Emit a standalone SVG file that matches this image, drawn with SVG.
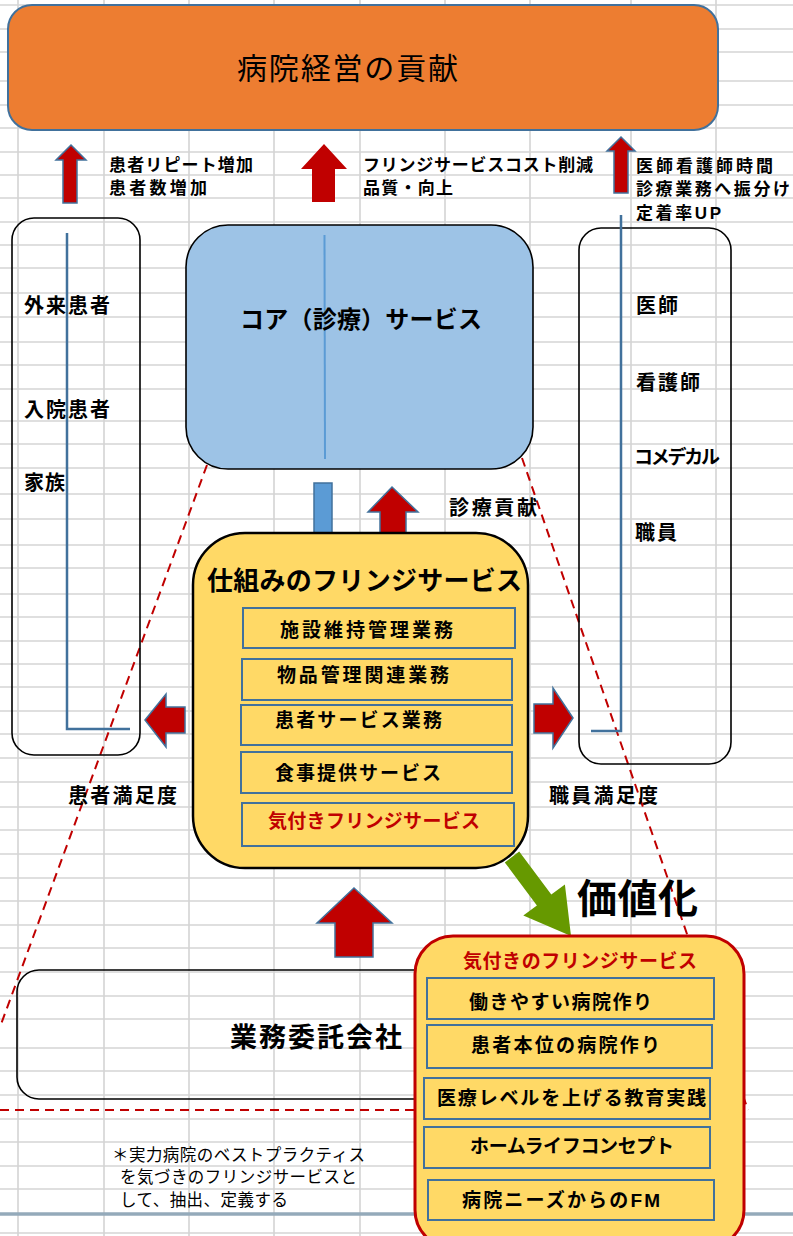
<svg xmlns="http://www.w3.org/2000/svg" width="793" height="1236" viewBox="0 0 793 1236">
<style>
.grid line{stroke:#d4d4d4;stroke-width:1.6}
.t{font-family:"Liberation Sans","Noto Sans CJK JP",sans-serif;font-weight:bold;fill:#000}
.r{font-family:"Liberation Sans","Noto Sans CJK JP",sans-serif;font-weight:normal;fill:#000}
.red{fill:#C00000}
.arr{fill:#C00000;stroke:#41719C;stroke-width:1.5;stroke-linejoin:miter}
.frame{fill:none;stroke:#000;stroke-width:1.6}
.inner{fill:#FFD966;stroke:#41719C;stroke-width:2}
.dash{fill:none;stroke:#C00000;stroke-width:2;stroke-dasharray:9 6}
.lline{fill:none;stroke:#41719C;stroke-width:2.5}
</style>
<rect x="0" y="0" width="793" height="1236" fill="#fff"/>
<g class="grid">
<line x1="0" y1="5" x2="793" y2="5"/><line x1="0" y1="29" x2="793" y2="29"/><line x1="0" y1="52" x2="793" y2="52"/><line x1="0" y1="81" x2="793" y2="81"/><line x1="0" y1="105" x2="793" y2="105"/><line x1="0" y1="128" x2="793" y2="128"/><line x1="0" y1="152" x2="793" y2="152"/><line x1="0" y1="175" x2="793" y2="175"/><line x1="0" y1="198" x2="793" y2="198"/><line x1="0" y1="222" x2="793" y2="222"/><line x1="0" y1="245" x2="793" y2="245"/><line x1="0" y1="268" x2="793" y2="268"/><line x1="0" y1="293" x2="793" y2="293"/><line x1="0" y1="317" x2="793" y2="317"/><line x1="0" y1="342" x2="793" y2="342"/><line x1="0" y1="365" x2="793" y2="365"/><line x1="0" y1="389" x2="793" y2="389"/><line x1="0" y1="421" x2="793" y2="421"/><line x1="0" y1="444" x2="793" y2="444"/><line x1="0" y1="468" x2="793" y2="468"/><line x1="0" y1="494" x2="793" y2="494"/><line x1="0" y1="519" x2="793" y2="519"/><line x1="0" y1="545" x2="793" y2="545"/><line x1="0" y1="568" x2="793" y2="568"/><line x1="0" y1="594" x2="793" y2="594"/><line x1="0" y1="617" x2="793" y2="617"/><line x1="0" y1="641" x2="793" y2="641"/><line x1="0" y1="664" x2="793" y2="664"/><line x1="0" y1="687" x2="793" y2="687"/><line x1="0" y1="711" x2="793" y2="711"/><line x1="0" y1="734" x2="793" y2="734"/><line x1="0" y1="758" x2="793" y2="758"/><line x1="0" y1="782" x2="793" y2="782"/><line x1="0" y1="807" x2="793" y2="807"/><line x1="0" y1="830" x2="793" y2="830"/><line x1="0" y1="854" x2="793" y2="854"/><line x1="0" y1="878" x2="793" y2="878"/><line x1="0" y1="901" x2="793" y2="901"/><line x1="0" y1="925" x2="793" y2="925"/><line x1="0" y1="948" x2="793" y2="948"/><line x1="0" y1="972" x2="793" y2="972"/><line x1="0" y1="996" x2="793" y2="996"/><line x1="0" y1="1019" x2="793" y2="1019"/><line x1="0" y1="1048" x2="793" y2="1048"/><line x1="0" y1="1071" x2="793" y2="1071"/><line x1="0" y1="1095" x2="793" y2="1095"/><line x1="0" y1="1119" x2="793" y2="1119"/><line x1="0" y1="1142" x2="793" y2="1142"/><line x1="0" y1="1166" x2="793" y2="1166"/><line x1="0" y1="1189" x2="793" y2="1189"/><line x1="0" y1="1233" x2="793" y2="1233"/>
<line x1="18" y1="0" x2="18" y2="1236"/><line x1="104" y1="0" x2="104" y2="1236"/><line x1="189" y1="0" x2="189" y2="1236"/><line x1="274" y1="0" x2="274" y2="1236"/><line x1="360" y1="0" x2="360" y2="1236"/><line x1="445" y1="0" x2="445" y2="1236"/><line x1="530" y1="0" x2="530" y2="1236"/><line x1="631" y1="0" x2="631" y2="1236"/><line x1="716" y1="0" x2="716" y2="1236"/>
</g>
<line x1="0" y1="1214" x2="793" y2="1214" stroke="#94AABA" stroke-width="3.5"/>

<g id="connectors">
<path class="dash" d="M207,465 L0,1027"/>
<path class="dash" d="M522,458 L748,1110"/>
<path class="dash" d="M0,1110 L748,1110"/>
<polygon class="arr" points="71,145 86,160 77,160 77,203 63,203 63,160 56,160"/>
<polygon fill="#C00000" points="324,144 347,169 335,169 335,202 312,202 312,169 301,169"/>
<polygon class="arr" points="621,137 635,151 628,151 628,193 614,193 614,151 607,151"/>
<rect x="314" y="483" width="18" height="69" fill="#5B9BD5" stroke="#41719C" stroke-width="1.5"/>
<polygon class="arr" points="392,487 418,512 406,512 406,551 380,551 380,512 368,512"/>
<polygon class="arr" points="145,720 166,694 166,707 185,707 185,733 166,733 166,747"/>
<polygon class="arr" points="573,718 553,688 553,704 534,704 534,733 553,733 553,748"/>
<polygon class="arr" points="354,888 392,923 373,923 373,957 335,957 335,923 317,923"/>
<polygon fill="#669900" points="519.2,851.6 551.3,894.6 564.9,884.5 571,936 523.3,915.5 536.9,905.4 504.8,862.4"/>
</g>

<g id="top">
<rect x="8" y="5" width="710" height="125" rx="24" fill="#ED7D31" stroke="#41719C" stroke-width="2"/>
<text class="r" x="237" y="79" font-size="30" textLength="221">病院経営の貢献</text>
</g>

<g id="labels-top">
<text class="t" x="109" y="170.5" font-size="17" textLength="144">患者リピート増加</text>
<text class="t" x="109" y="194" font-size="17" textLength="98">患者数増加</text>
<text class="t" x="363" y="170.5" font-size="17" textLength="230">フリンジサービスコスト削減</text>
<text class="t" x="363" y="194" font-size="17" textLength="90">品質・向上</text>
<text class="t" x="636" y="171.5" font-size="17" textLength="137">医師看護師時間</text>
<text class="t" x="636" y="194.5" font-size="17" textLength="154">診療業務へ振分け</text>
<text class="t" x="636" y="218.5" font-size="17" textLength="85">定着率UP</text>
</g>

<g id="patients">
<rect class="frame" x="12" y="218" width="128" height="537" rx="22"/>
<path class="lline" d="M67,233 L67,729 L130,729"/>
<text class="t" x="24" y="313" font-size="20" textLength="86">外来患者</text>
<text class="t" x="24" y="417" font-size="20" textLength="86">入院患者</text>
<text class="t" x="24" y="490" font-size="20" textLength="41">家族</text>
</g>

<g id="staff">
<rect class="frame" x="579" y="228" width="152" height="536" rx="22"/>
<path class="lline" d="M621,215 L621,731 L591,731"/>
<text class="t" x="636" y="313" font-size="20" textLength="42">医師</text>
<text class="t" x="636" y="390" font-size="20" textLength="64">看護師</text>
<text class="t" x="634" y="464" font-size="19" textLength="86">コメデカル</text>
<text class="t" x="635" y="540" font-size="20" textLength="42">職員</text>
</g>

<g id="core">
<rect x="186" y="225" width="347" height="244" rx="42" fill="#9DC3E6" stroke="#000" stroke-width="1.6"/>
<line x1="324.5" y1="235" x2="325" y2="459" stroke="#5B9BD5" stroke-width="2"/>
<text class="t" x="240" y="328" font-size="24" textLength="242">コア（診療）サービス</text>
</g>

<text class="t" x="449" y="515" font-size="20" textLength="88">診療貢献</text>
<text class="t" x="68" y="803" font-size="20" textLength="109">患者満足度</text>
<text class="t" x="549" y="803" font-size="20" textLength="109">職員満足度</text>

<g id="fringe">
<rect x="193" y="533" width="335" height="335" rx="52" fill="#FFD966" stroke="#000" stroke-width="2.5"/>
<text class="t" x="207" y="590" font-size="26" textLength="315">仕組みのフリンジサービス</text>
<rect class="inner" x="243" y="608" width="272" height="40"/>
<text class="t" x="280" y="637" font-size="19" textLength="173">施設維持管理業務</text>
<rect class="inner" x="242" y="659" width="270" height="41"/>
<text class="t" x="277" y="682" font-size="19" textLength="172">物品管理関連業務</text>
<rect class="inner" x="241" y="705" width="271" height="40"/>
<text class="t" x="275" y="727" font-size="19" textLength="167">患者サービス業務</text>
<rect class="inner" x="241" y="752" width="271" height="41"/>
<text class="t" x="275" y="780" font-size="19" textLength="166">食事提供サービス</text>
<rect class="inner" x="242" y="803" width="272" height="43" stroke-width="2.5"/>
<text class="t red" x="268" y="828" font-size="19" textLength="212">気付きフリンジサービス</text>
</g>

<text class="t" x="577" y="913" font-size="40" textLength="121">価値化</text>

<g id="outsourcing">
<rect class="frame" x="17" y="970" width="470" height="129" rx="22"/>
<text class="t" x="230" y="1047" font-size="27" textLength="172">業務委託会社</text>
</g>

<g id="note">
<text class="r" x="112" y="1161" font-size="16.5" textLength="253">＊実力病院のベストプラクティス</text>
<text class="r" x="120" y="1183" font-size="16.5" textLength="237">を気づきのフリンジサービスと</text>
<text class="r" x="120" y="1206" font-size="16.5" textLength="168">して、抽出、定義する</text>
</g>

<g id="aware">
<rect x="415" y="936" width="329" height="312" rx="38" fill="#FFD966" stroke="#C00000" stroke-width="3"/>
<text class="t red" x="463" y="968" font-size="19" textLength="234">気付きのフリンジサービス</text>
<rect class="inner" x="427" y="978" width="287" height="41"/>
<text class="t" x="469" y="1009" font-size="19" textLength="183">働きやすい病院作り</text>
<rect class="inner" x="427" y="1025" width="285" height="43"/>
<text class="t" x="471" y="1052" font-size="19" textLength="189">患者本位の病院作り</text>
<rect class="inner" x="424" y="1078" width="286" height="41"/>
<text class="t" x="437" y="1105" font-size="19" textLength="269">医療レベルを上げる教育実践</text>
<rect class="inner" x="424" y="1127" width="286" height="41"/>
<text class="t" x="470" y="1153" font-size="19" textLength="204">ホームライフコンセプト</text>
<rect class="inner" x="428" y="1180" width="286" height="40"/>
<text class="t" x="462" y="1207" font-size="19" textLength="198">病院ニーズからのFM</text>
</g>
</svg>
